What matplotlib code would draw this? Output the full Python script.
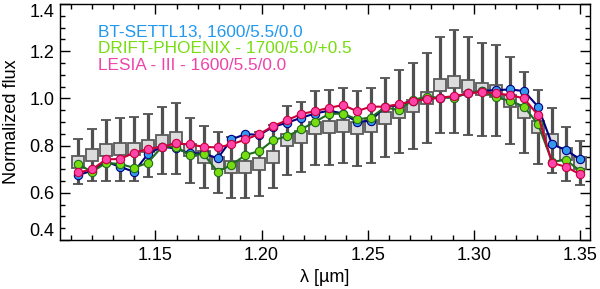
import matplotlib
matplotlib.use("Agg")
import matplotlib.pyplot as plt
from matplotlib.ticker import MultipleLocator

plt.rcParams['font.family'] = ['Liberation Sans', 'DejaVu Sans']

# --- DATA ---
wavelength = [1.1136, 1.1202, 1.1267, 1.1333, 1.1399, 1.1464, 1.1530, 1.1596, 1.1661,
              1.1727, 1.1793, 1.1858, 1.1924, 1.1990, 1.2055, 1.2121, 1.2187, 1.2252,
              1.2318, 1.2384, 1.2449, 1.2515, 1.2581, 1.2646, 1.2712, 1.2778, 1.2843,
              1.2909, 1.2975, 1.3040, 1.3106, 1.3172, 1.3237, 1.3303, 1.3369, 1.3434,
              1.3500]

obs_flux = [0.732, 0.760, 0.781, 0.784, 0.784, 0.799, 0.821, 0.831, 0.781, 0.753,
            0.727, 0.708, 0.710, 0.722, 0.753, 0.823, 0.838, 0.873, 0.877, 0.884,
            0.873, 0.884, 0.919, 0.944, 0.968, 1.003, 1.056, 1.071, 1.052, 1.038,
            1.032, 0.990, 0.941, 0.877, 0.823, 0.764, 0.727]
obs_err = [0.094, 0.109, 0.129, 0.135, 0.136, 0.134, 0.143, 0.150, 0.138, 0.132,
           0.129, 0.129, 0.130, 0.134, 0.134, 0.146, 0.148, 0.157, 0.159, 0.159,
           0.159, 0.159, 0.169, 0.177, 0.184, 0.191, 0.203, 0.218, 0.209, 0.198,
           0.193, 0.185, 0.173, 0.157, 0.138, 0.116, 0.092]

bt_settl = [0.675, 0.694, 0.732, 0.710, 0.689, 0.764, 0.795, 0.788, 0.767, 0.767,
            0.746, 0.826, 0.849, 0.845, 0.880, 0.897, 0.918, 0.936, 0.948, 0.936,
            0.901, 0.905, 0.965, 0.972, 0.990, 1.000, 1.003, 1.007, 1.021, 1.032,
            1.035, 1.038, 1.031, 0.965, 0.806, 0.781, 0.743]
drift_phoenix = [0.720, 0.689, 0.727, 0.722, 0.706, 0.727, 0.795, 0.795, 0.760, 0.764,
                 0.689, 0.718, 0.760, 0.777, 0.823, 0.840, 0.869, 0.901, 0.934, 0.936,
                 0.911, 0.919, 0.962, 0.951, 0.993, 1.007, 1.003, 1.003, 1.024, 1.032,
                 1.004, 0.990, 0.965, 0.891, 0.732, 0.739, 0.694]
lesia = [0.686, 0.699, 0.742, 0.743, 0.770, 0.785, 0.795, 0.809, 0.805, 0.795,
         0.792, 0.805, 0.826, 0.849, 0.883, 0.908, 0.934, 0.946, 0.960, 0.972,
         0.946, 0.965, 0.965, 0.975, 0.989, 0.996, 1.003, 1.010, 1.021, 1.028,
         1.021, 1.014, 1.000, 0.929, 0.727, 0.710, 0.679]

model_labels = ["BT-SETTL13, 1600/5.5/0.0",
                "DRIFT-PHOENIX - 1700/5.0/+0.5",
                "LESIA - III - 1600/5.5/0.0"]

# --- PLOT ---
fig = plt.figure(figsize=(6.0, 2.89), dpi=100)
ax = fig.add_axes([0.1, 0.1696, 0.883, 0.8165])

ax.errorbar(wavelength, obs_flux, yerr=obs_err, fmt='s', ms=8,
            mfc='#dcdcdc', mec='#5a5a5a', mew=1.3, ecolor='#505050',
            elinewidth=2.3, capsize=3.8, capthick=2.3, zorder=2)

models = [(bt_settl, '#000080', '#3399ee'),
          (drift_phoenix, '#1f6b1f', '#77dd11'),
          (lesia, '#c8003c', '#ff44aa')]
for flux, lc, mc in models:
    ax.plot(wavelength, flux, '-o', color=lc, lw=1.5, ms=6,
            mfc=mc, mec=lc, mew=0.8, zorder=3)

text_colors = ['#2299ee', '#77dd11', '#ee44aa']
for i, (lab, c) in enumerate(zip(model_labels, text_colors)):
    ax.text(0.072, 0.88 - i * 0.07, lab, color=c, fontsize=12.4,
            transform=ax.transAxes, va='center', ha='left')

ax.set_xlim(1.105, 1.3547)
ax.set_ylim(0.4, 1.4)
ax.set_xticks([1.15, 1.20, 1.25, 1.30, 1.35])
ax.set_xticklabels(['1.15', '1.20', '1.25', '1.30', '1.35'])
ax.set_yticks([0.4, 0.6, 0.8, 1.0, 1.2, 1.4])
ax.set_yticklabels(['0.4', '0.6', '0.8', '1.0', '1.2', '1.4'])
ax.xaxis.set_minor_locator(MultipleLocator(0.01))
ax.yaxis.set_minor_locator(MultipleLocator(0.05))
ax.tick_params(which='both', direction='in', top=True, right=True,
               labelsize=13, width=1.0)
ax.tick_params(axis='x', pad=5)
ax.tick_params(axis='y', pad=4)
ax.tick_params(which='major', length=7)
ax.tick_params(which='minor', length=3.5)
for s in ax.spines.values():
    s.set_linewidth(1.0)

# IDL style: end labels pulled inside the axis range
yt = ax.yaxis.get_major_ticks()
yt[0].label1.set_va('bottom')
yt[-1].label1.set_va('top')

ax.set_xlabel('λ [µm]', fontsize=13, labelpad=3.5)
ax.set_ylabel('Normalized flux', fontsize=13, labelpad=7)

fig.savefig('out.png', dpi=100)
